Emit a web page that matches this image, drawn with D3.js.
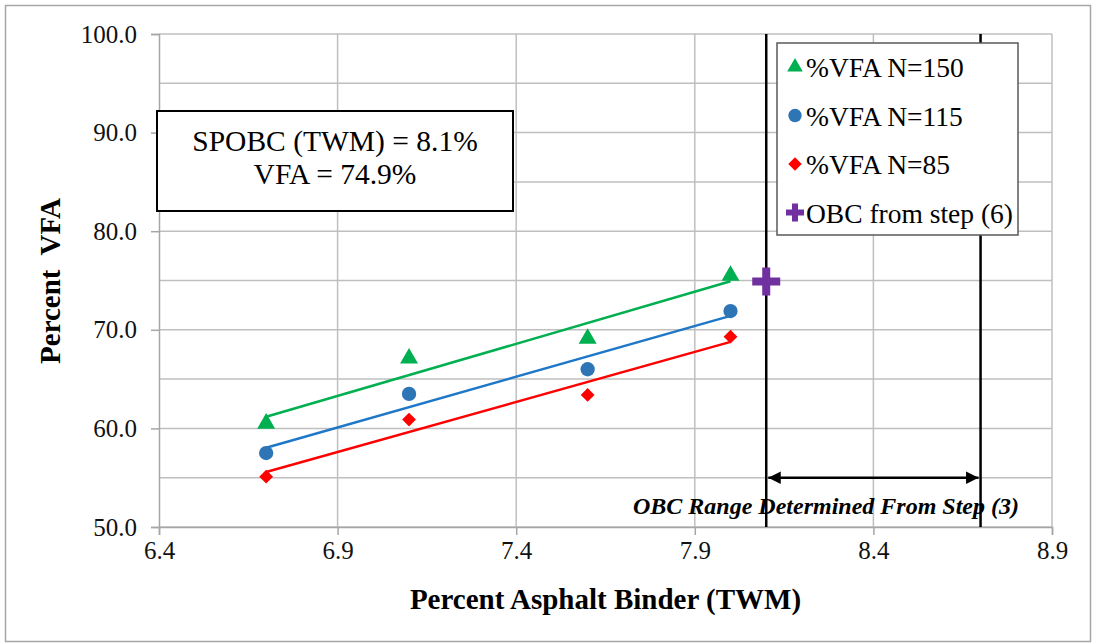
<!DOCTYPE html>
<html>
<head>
<meta charset="utf-8">
<script src="https://cdn.jsdelivr.net/npm/d3@7"></script>
<style>
  html, body { margin: 0; padding: 0; background: #fff; }
  svg { display: block; }
</style>
</head>
<body>
<svg id="chart" width="1096" height="643"></svg>
<script>
// ---- Data ----
const binderContent = [6.7, 7.1, 7.6, 8.0];
const vfaN150 = [60.5, 67.1, 69.1, 75.5];
const vfaN115 = [57.5, 63.5, 66.0, 71.9];
const vfaN85  = [55.1, 60.9, 63.4, 69.3];
const obcPoint = [8.1, 74.9];
const obcRange = [8.1, 8.7];
const obcRangeArrowY = 55;
const xTicks = [6.4, 6.9, 7.4, 7.9, 8.4, 8.9];
const yTicks = [50, 60, 70, 80, 90, 100];
const yGrid = [50, 55, 60, 65, 70, 75, 80, 85, 90, 95, 100];
const seriesNames = ["%VFA N=150", "%VFA N=115", "%VFA N=85", "OBC from step (6)"];
const infoLines = ["SPOBC (TWM) = 8.1%", "VFA = 74.9%"];
const rangeLabel = "OBC Range Determined From Step (3)";

// ---- Setup ----
const svg = d3.select("#chart");
const font = "'Liberation Serif', 'Times New Roman', serif";
const x = d3.scaleLinear().domain([6.4, 8.9]).range([159, 1052]);
const y = d3.scaleLinear().domain([50, 100]).range([527, 34]);

svg.append("rect").attr("x", 0).attr("y", 0).attr("width", 1096).attr("height", 643).attr("fill", "#fff");
svg.append("rect").attr("x", 5.5).attr("y", 5.5).attr("width", 1085).attr("height", 636)
  .attr("fill", "none").attr("stroke", "#a6a6a6").attr("stroke-width", 1.5);

// gridlines
const grid = svg.append("g");
grid.selectAll("line.h").data(yGrid).join("line")
  .attr("x1", x(6.4)).attr("x2", x(8.9)).attr("y1", d => y(d)).attr("y2", d => y(d))
  .attr("stroke", "#bfbfbf").attr("stroke-width", 1.5);
grid.selectAll("line.v").data(xTicks.slice(1)).join("line")
  .attr("x1", d => x(d)).attr("x2", d => x(d)).attr("y1", y(50)).attr("y2", y(100))
  .attr("stroke", "#bfbfbf").attr("stroke-width", 1.5);

// axes
const yAxis = svg.append("g").attr("transform", `translate(${x(6.4)},0)`)
  .call(d3.axisLeft(y).tickValues(yTicks).tickFormat(d3.format(".1f")).tickSize(8).tickPadding(14));
const xAxis = svg.append("g").attr("transform", `translate(0,${y(50)})`)
  .call(d3.axisBottom(x).tickValues(xTicks).tickFormat(d3.format(".1f")).tickSize(8).tickPadding(6));
[yAxis, xAxis].forEach(a => {
  a.attr("font-family", font).attr("font-size", 25);
  a.select(".domain").attr("stroke", "#a6a6a6").attr("stroke-width", 1.5);
  a.selectAll(".tick line").attr("stroke", "#a6a6a6").attr("stroke-width", 1.5);
  a.selectAll(".tick text").attr("font-family", font).attr("font-size", 25).attr("fill", "#111");
});

// axis titles
svg.append("text").attr("x", x(7.65)).attr("y", 609).attr("text-anchor", "middle")
  .attr("font-family", font).attr("font-size", 29).attr("font-weight", "bold").attr("fill", "#000")
  .text("Percent Asphalt Binder (TWM)");
svg.append("text").attr("transform", "translate(60,281) rotate(-90)").attr("text-anchor", "middle")
  .attr("font-family", font).attr("font-size", 29).attr("font-weight", "bold").attr("fill", "#000")
  .attr("xml:space", "preserve").style("white-space", "pre")
  .text("Percent  VFA");

// OBC range vertical lines
svg.selectAll("line.range").data(obcRange).join("line")
  .attr("x1", d => x(d)).attr("x2", d => x(d)).attr("y1", y(100)).attr("y2", y(50))
  .attr("stroke", "#000").attr("stroke-width", 2.5);

// arrow
const defs = svg.append("defs");
defs.append("marker").attr("id", "ah").attr("viewBox", "0 0 10 10").attr("refX", 10).attr("refY", 5)
  .attr("markerWidth", 6.5).attr("markerHeight", 5).attr("markerUnits", "strokeWidth").attr("orient", "auto-start-reverse")
  .append("path").attr("d", "M0,0 L10,5 L0,10 Z").attr("fill", "#000");
svg.append("line").attr("x1", x(obcRange[0]) + 2).attr("x2", x(obcRange[1]) - 2)
  .attr("y1", y(obcRangeArrowY)).attr("y2", y(obcRangeArrowY))
  .attr("stroke", "#000").attr("stroke-width", 2.5)
  .attr("marker-start", "url(#ah)").attr("marker-end", "url(#ah)");
svg.append("text").attr("x", 826).attr("y", 514).attr("text-anchor", "middle")
  .attr("font-family", font).attr("font-size", 24).attr("font-weight", "bold").attr("font-style", "italic")
  .attr("fill", "#000").text(rangeLabel);

// marker helpers
const diamondPath = r => `M0,${-r}L${r},0L0,${r}L${-r},0Z`;
function markerPath(shape, size) {
  if (shape === "diamond") return diamondPath(Math.sqrt(size / 2));
  return d3.symbol().type(shape).size(size)();
}
function crossPath(r, t) {
  return `M${-t},${-r}H${t}V${-t}H${r}V${t}H${t}V${r}H${-t}V${t}H${-r}V${-t}H${-t}Z`;
}

// series
const series = [
  { name: seriesNames[0], values: vfaN150, color: "#00b050", shape: d3.symbolTriangle, size: 140 },
  { name: seriesNames[1], values: vfaN115, color: "#2e75b6", shape: d3.symbolCircle, size: 160, line: "#1f77c8" },
  { name: seriesNames[2], values: vfaN85,  color: "#ff0000", shape: "diamond", size: 95 }
];

function linFit(xs, ys) {
  const mx = d3.mean(xs), my = d3.mean(ys);
  const sxy = d3.sum(xs, (v, i) => (v - mx) * (ys[i] - my));
  const sxx = d3.sum(xs, v => (v - mx) * (v - mx));
  const b = sxy / sxx;
  return v => my + b * (v - mx);
}

series.forEach(s => {
  const f = linFit(binderContent, s.values);
  const ends = [d3.min(binderContent), d3.max(binderContent)];
  svg.append("line").attr("x1", x(ends[0])).attr("x2", x(ends[1]))
    .attr("y1", y(f(ends[0]))).attr("y2", y(f(ends[1])))
    .attr("stroke", s.line || s.color).attr("stroke-width", 2.5);
});
series.forEach(s => {
  svg.append("g").selectAll("path").data(binderContent).join("path")
    .attr("transform", (d, i) => `translate(${x(d)},${y(s.values[i])})`)
    .attr("d", markerPath(s.shape, s.size))
    .attr("fill", s.color);
});

// OBC cross
svg.append("path").attr("transform", `translate(${x(obcPoint[0])},${y(obcPoint[1])})`)
  .attr("d", crossPath(14, 4)).attr("fill", "#7030a0");

// info box
svg.append("rect").attr("x", 157).attr("y", 111).attr("width", 356).attr("height", 100)
  .attr("fill", "#fff").attr("stroke", "#000").attr("stroke-width", 2);
svg.selectAll("text.info").data(infoLines).join("text")
  .attr("x", 335).attr("y", (d, i) => 151 + i * 33).attr("text-anchor", "middle")
  .attr("font-family", font).attr("font-size", 29.5).attr("fill", "#000").text(d => d);

// legend
const lg = svg.append("g");
lg.append("rect").attr("x", 777).attr("y", 43).attr("width", 241).attr("height", 192)
  .attr("fill", "#fff").attr("stroke", "#595959").attr("stroke-width", 1.5);
const legendItems = [
  { name: seriesNames[0], color: "#00b050", shape: d3.symbolTriangle, size: 105 },
  { name: seriesNames[1], color: "#2e75b6", shape: d3.symbolCircle, size: 140 },
  { name: seriesNames[2], color: "#ff0000", shape: "diamond", size: 90 },
  { name: seriesNames[3], color: "#7030a0", cross: true }
];
legendItems.forEach((it, i) => {
  const cy = 67 + i * 48.5;
  if (it.cross) {
    lg.append("path").attr("transform", `translate(795,${cy})`).attr("d", crossPath(9, 3)).attr("fill", it.color);
  } else {
    lg.append("path").attr("transform", `translate(795,${cy})`)
      .attr("d", markerPath(it.shape, it.size)).attr("fill", it.color);
  }
  lg.append("text").attr("x", 806).attr("y", cy + 10)
    .attr("font-family", font).attr("font-size", 27.5).attr("fill", "#000").text(it.name);
});
</script>
</body>
</html>
